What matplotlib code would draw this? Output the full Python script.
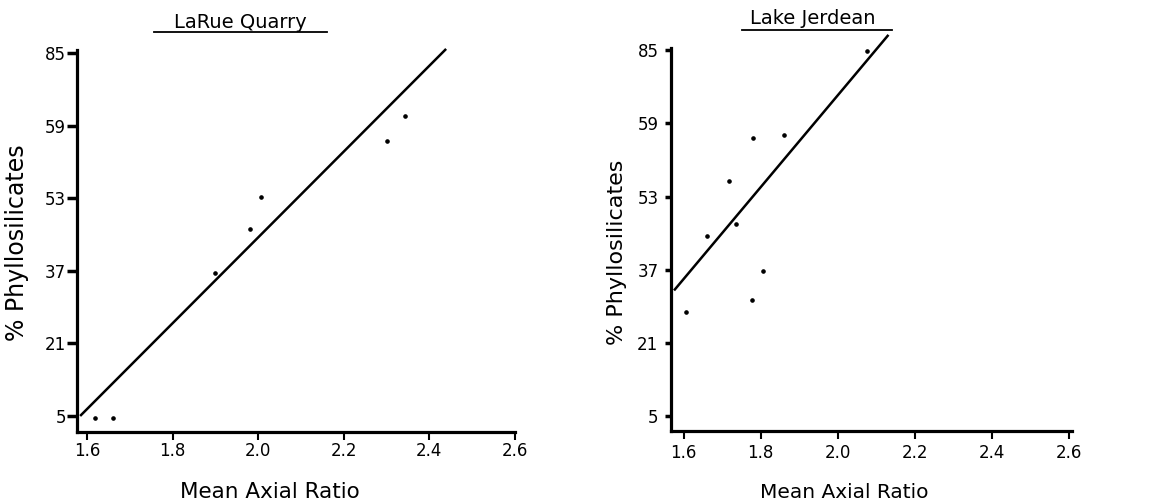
import matplotlib
matplotlib.use("Agg")
import matplotlib.pyplot as plt
from matplotlib.lines import Line2D

plt.rcParams['font.family'] = ['DejaVu Sans']

# ---- data ----
y_tick_vals = [5, 21, 37, 53, 69, 85]
y_tick_labels = ["5", "21", "37", "53", "59", "85"]
x_tick_vals = [1.6, 1.8, 2.0, 2.2, 2.4, 2.6]
x_tick_labels = ["1.6", "1.8", "2.0", "2.2", "2.4", "2.6"]

larue_x = [1.618, 1.661, 1.898, 1.981, 2.006, 2.301, 2.344]
larue_y = [4.6, 4.6, 36.6, 46.2, 53.2, 65.5, 71.2]
larue_fit_x = [1.586, 2.437]
larue_fit_y = [5.2, 85.7]

jerdean_x = [1.607, 1.661, 1.717, 1.736, 1.780, 1.777, 1.805, 1.860, 2.076]
jerdean_y = [27.7, 44.3, 56.5, 47.1, 65.8, 30.5, 36.8, 66.4, 84.8]
jerdean_fit_x = [1.577, 2.13]
jerdean_fit_y = [32.7, 88.1]

W, H = 1158, 503
fig = plt.figure(figsize=(W / 100, H / 100), dpi=100)

def px_axes(x0, x1, ytop, ybot):
    return fig.add_axes([x0 / W, 1 - ybot / H, (x1 - x0) / W, (ybot - ytop) / H])

ax1 = px_axes(77, 515, 50, 432)
ax2 = px_axes(671, 1072, 48, 431)

for ax in (ax1, ax2):
    for s in ("top", "right"):
        ax.spines[s].set_visible(False)
    for s in ("left", "bottom"):
        ax.spines[s].set_linewidth(2.3)
        ax.spines[s].set_color("black")
    ax.set_yticks(y_tick_vals, labels=y_tick_labels)
    ax.set_xticks(x_tick_vals, labels=x_tick_labels)
    ax.set_facecolor("white")

# Left panel
ax1.set_xlim(1.5766, 2.6)
ax1.set_ylim(1.47, 85.66)
ax1.plot(larue_fit_x, larue_fit_y, color="black", lw=1.8, clip_on=False)
ax1.plot(larue_x, larue_y, "o", color="black", ms=2.3, clip_on=False)
ax1.tick_params(axis="y", length=7, width=2.5, pad=1, labelsize=12)
ax1.tick_params(axis="x", length=6, width=1.5, pad=1, labelsize=12)

# Right panel
ax2.set_xlim(1.567, 2.609)
ax2.set_ylim(1.79, 85.44)
ax2.plot(jerdean_fit_x, jerdean_fit_y, color="black", lw=1.8, clip_on=False)
ax2.plot(jerdean_x, jerdean_y, "o", color="black", ms=2.3, clip_on=False)
ax2.tick_params(axis="y", length=4, width=2.5, pad=5, labelsize=12)
ax2.tick_params(axis="x", length=6, width=1.5, pad=3, labelsize=12)

# Titles with underline
fig.text(240 / W, 1 - 22 / H, "LaRue Quarry", ha="center", va="center", fontsize=14)
fig.add_artist(Line2D([154 / W, 327 / W], [1 - 32 / H, 1 - 32 / H], color="black", lw=1.3))
fig.text(813 / W, 1 - 19 / H, "Lake Jerdean", ha="center", va="center", fontsize=14)
fig.add_artist(Line2D([742 / W, 892 / W], [1 - 30 / H, 1 - 30 / H], color="black", lw=1.3))

# Axis labels
fig.text(270 / W, 1 - 492 / H, "Mean Axial Ratio", ha="center", va="center", fontsize=15.5)
fig.text(844 / W, 1 - 492 / H, "Mean Axial Ratio", ha="center", va="center", fontsize=14.5)
fig.text(17 / W, 1 - 243 / H, "% Phyllosilicates", ha="center", va="center", rotation=90, fontsize=17)
fig.text(617 / W, 1 - 252 / H, "% Phyllosilicates", ha="center", va="center", rotation=90, fontsize=16)

fig.savefig("out.png", dpi=100, facecolor="white")
